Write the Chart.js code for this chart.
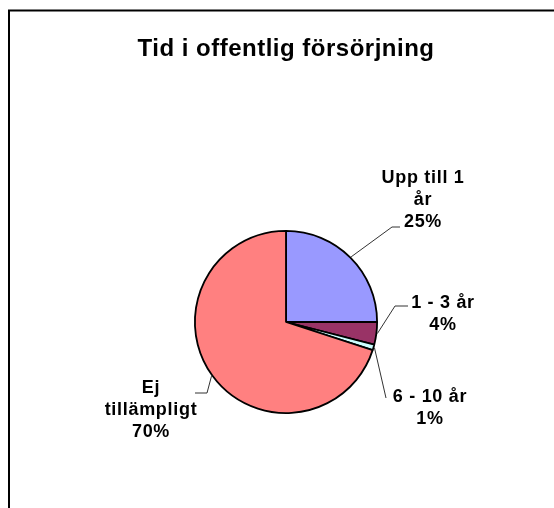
<!DOCTYPE html>
<html>
<head>
<meta charset="utf-8">
<script src="https://cdn.jsdelivr.net/npm/chart.js@4"></script>
<style>
html,body{margin:0;padding:0;background:#fff;}
canvas{display:block;}
</style>
</head>
<body>
<canvas id="c" width="554" height="508"></canvas>
<script>
// ---- data ----
const chartTitle = 'Tid i offentlig försörjning';
const categories = ['Upp till 1 år', '1 - 3 år', '6 - 10 år', 'Ej tillämpligt'];
const labelLines = [['Upp till 1', 'år'], ['1 - 3 år'], ['6 - 10 år'], ['Ej', 'tillämpligt']];
const values = [25, 4, 1, 70];
const colors = ['#9999FF', '#993366', '#CCFFFF', '#FF8080'];

// ---- label layout (offsets from pie centre, px) ----
const labelLayout = [
  {tx: 137, ty: -139, elbow: [106, -95], end: [114, -95]},
  {tx: 157, ty: -14, elbow: [109, -16], end: [122, -16]},
  {tx: 144, ty: 80, elbow: [100, 76], end: [100, 76]},
  {tx: -135, ty: 71, elbow: [-79, 71], end: [-91, 71]}
];
const labelFont = 'bold 18px Arial, "Liberation Sans", sans-serif';
const titleFont = 'bold 24px Arial, "Liberation Sans", sans-serif';
const lineH = 22;

const frame = {
  id: 'frame',
  beforeDraw(chart) {
    const ctx = chart.ctx;
    ctx.save();
    ctx.fillStyle = '#fff';
    ctx.fillRect(0, 0, chart.width, chart.height);
    ctx.strokeStyle = '#000';
    ctx.lineWidth = 2;
    ctx.beginPath();
    ctx.moveTo(9, chart.height);
    ctx.lineTo(9, 10.5);
    ctx.lineTo(chart.width, 10.5);
    ctx.stroke();
    ctx.restore();
  }
};

const pieLabels = {
  id: 'pieLabels',
  afterDraw(chart) {
    const ctx = chart.ctx;
    const meta = chart.getDatasetMeta(0);
    const total = values.reduce((a, b) => a + b, 0);
    ctx.save();
    // title
    const first = meta.data[0];
    ctx.font = titleFont;
    ctx.letterSpacing = '0.5px';
    ctx.fillStyle = '#000';
    ctx.textAlign = 'center';
    ctx.textBaseline = 'alphabetic';
    ctx.fillText(chartTitle, first.x, 56);
    meta.data.forEach((arc, i) => {
      const {x, y, startAngle, endAngle, outerRadius} = arc.getProps(['x', 'y', 'startAngle', 'endAngle', 'outerRadius'], true);
      const mid = (startAngle + endAngle) / 2;
      const L = labelLayout[i];
      const sx = x + Math.cos(mid) * (outerRadius + 1);
      const sy = y + Math.sin(mid) * (outerRadius + 1);
      ctx.strokeStyle = '#333';
      ctx.lineWidth = 1;
      ctx.beginPath();
      ctx.moveTo(sx, sy);
      ctx.lineTo(x + L.elbow[0], y + L.elbow[1]);
      ctx.lineTo(x + L.end[0], y + L.end[1]);
      ctx.stroke();
      const lines = labelLines[i].concat([Math.round(values[i] / total * 100) + '%']);
      ctx.font = labelFont;
      ctx.letterSpacing = '0.7px';
      ctx.fillStyle = '#000';
      ctx.textAlign = 'center';
      ctx.textBaseline = 'alphabetic';
      lines.forEach((t, k) => {
        ctx.fillText(t, x + L.tx, y + L.ty + k * lineH);
      });
    });
    ctx.restore();
  }
};

new Chart(document.getElementById('c'), {
  type: 'pie',
  data: {
    labels: categories,
    datasets: [{
      data: values,
      backgroundColor: colors,
      borderColor: '#000',
      borderWidth: 1.8
    }]
  },
  options: {
    responsive: false,
    animation: false,
    layout: {padding: {left: 194, right: 176, bottom: 94, top: 230}},
    plugins: {
      legend: {display: false},
      tooltip: {enabled: false},
      title: {display: false}
    }
  },
  plugins: [frame, pieLabels]
});
</script>
</body>
</html>
